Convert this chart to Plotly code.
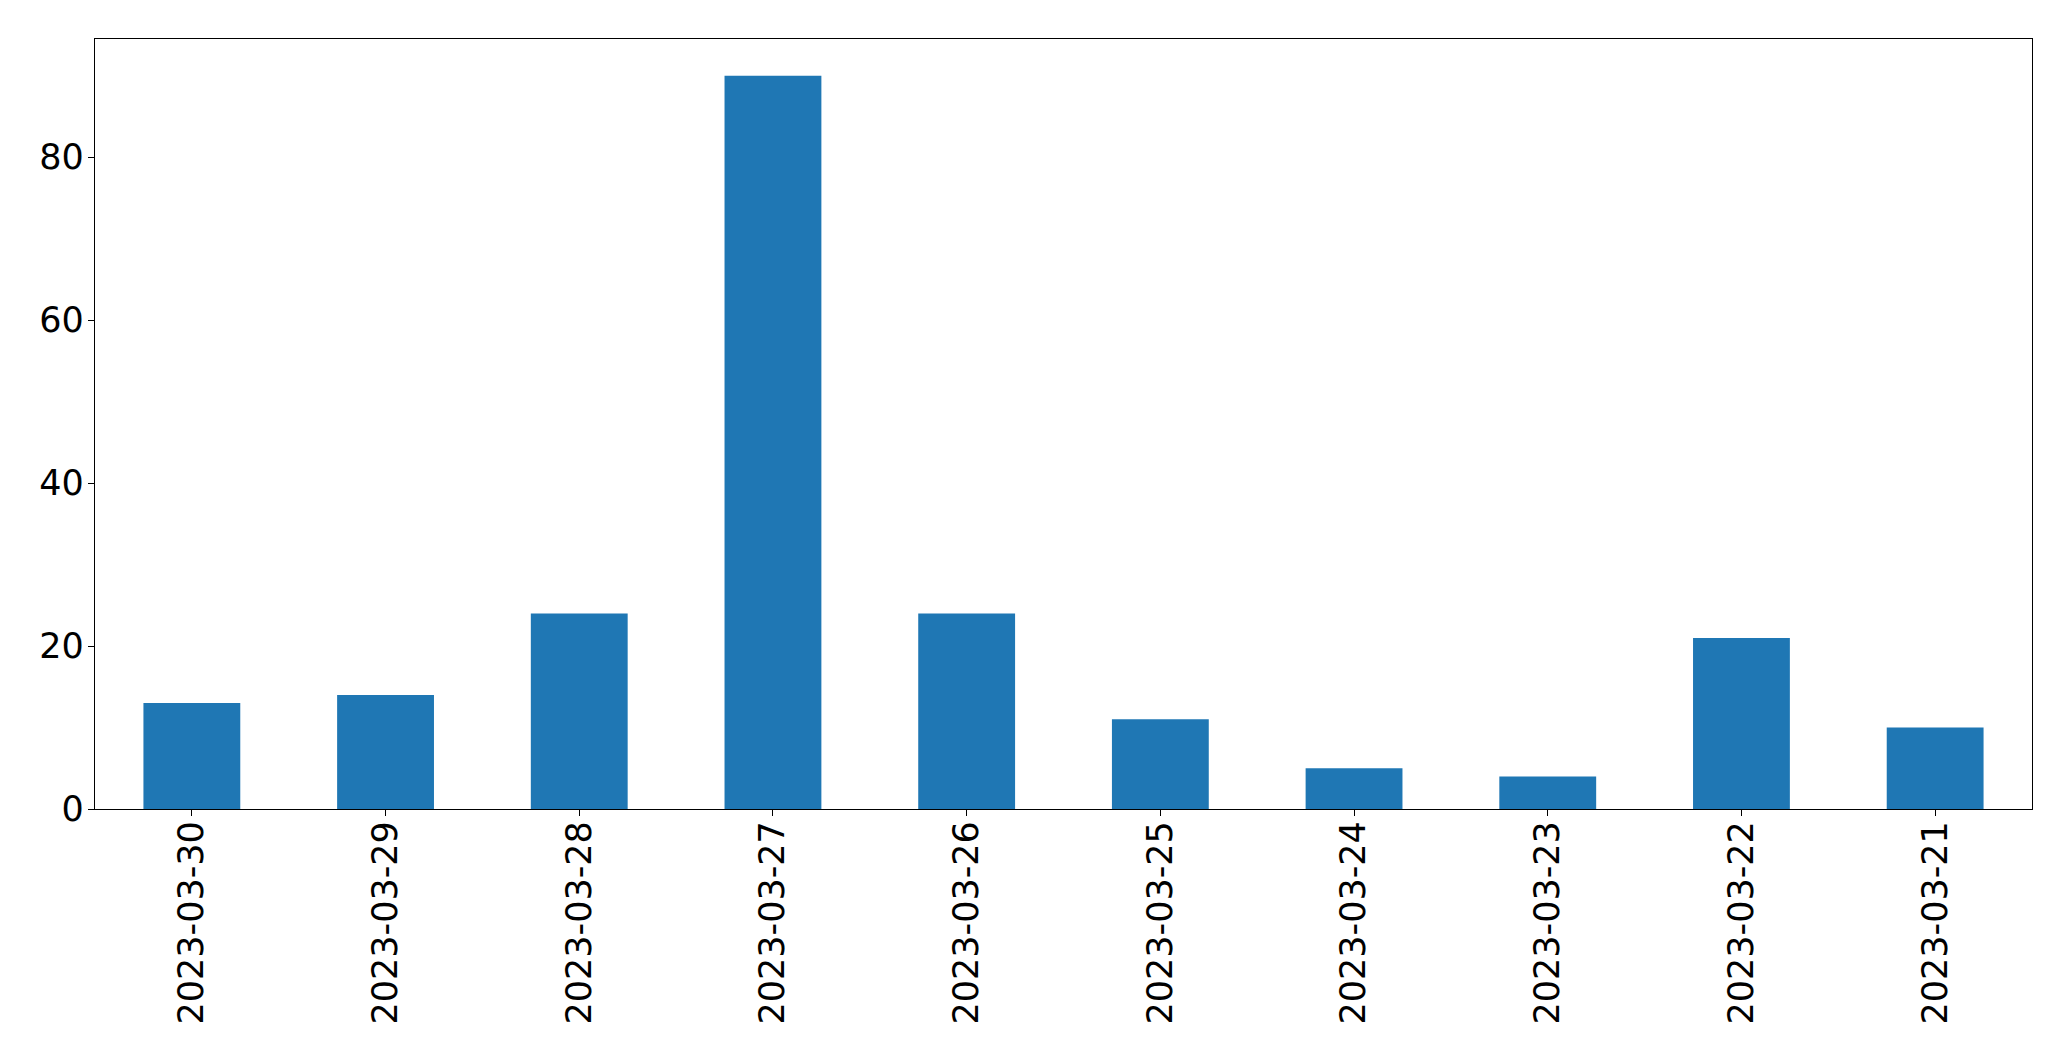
import plotly.graph_objects as go

dates = ["2023-03-30", "2023-03-29", "2023-03-28", "2023-03-27", "2023-03-26",
         "2023-03-25", "2023-03-24", "2023-03-23", "2023-03-22", "2023-03-21"]
counts = [13, 14, 24, 90, 24, 11, 5, 4, 21, 10]
y_ticks = [0, 20, 40, 60, 80]

fig = go.Figure(go.Bar(x=dates, y=counts, marker=dict(color="#1f77b4", line=dict(width=0)), width=0.5))

fig.update_layout(
    width=2055, height=1045,
    margin=dict(l=86.5, r=31, t=31, b=244, pad=0),
    plot_bgcolor="white", paper_bgcolor="white",
    font=dict(family="DejaVu Sans", size=35, color="black"),
    showlegend=False,
    bargap=0.5,
)
fig.update_xaxes(
    type="category", range=[-0.5, 9.5],
    showline=True, linecolor="black", linewidth=1.3, mirror=True,
    ticks="outside", ticklen=6, tickwidth=1.3, tickcolor="black",
    tickangle=-90, showgrid=False, zeroline=False,
    ticklabelstandoff=-9,
)
fig.update_yaxes(
    range=[0, 94.5], tickvals=y_ticks,
    showline=True, linecolor="black", linewidth=1.3, mirror=True,
    ticks="outside", ticklen=6, tickwidth=1.3, tickcolor="black",
    showgrid=False, zeroline=False,
    ticklabelstandoff=-3,
)
fig.write_html("out.html")
